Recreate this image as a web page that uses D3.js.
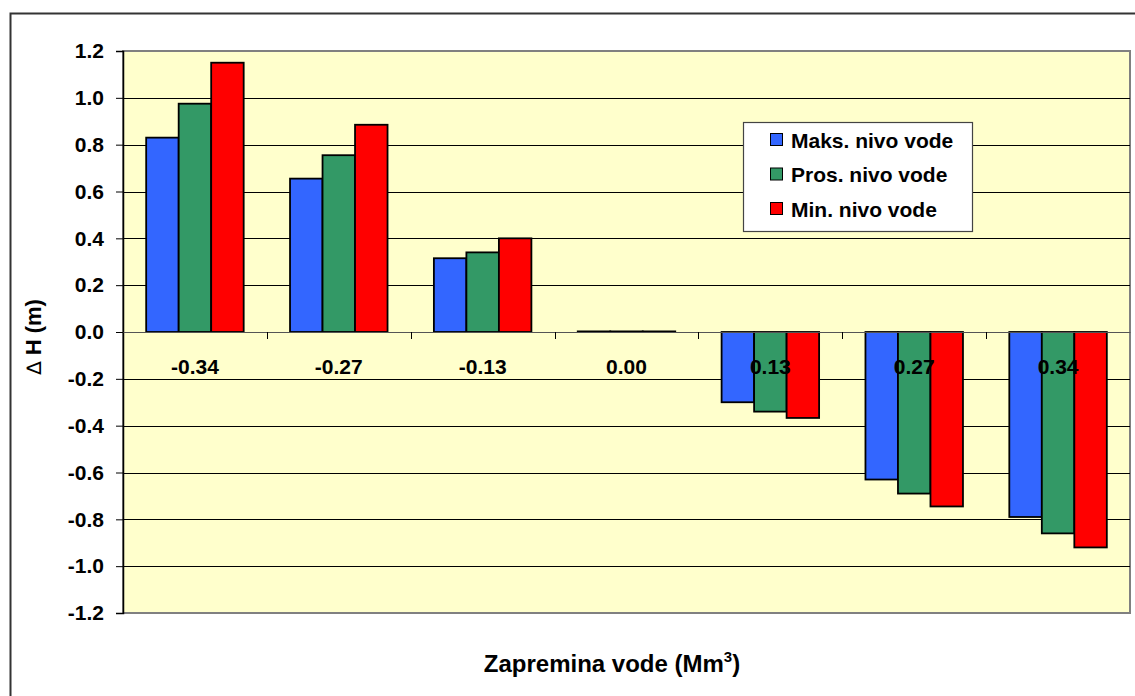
<!DOCTYPE html>
<html>
<head>
<meta charset="utf-8">
<script src="https://cdn.jsdelivr.net/npm/d3@7"></script>
<style>
  html, body { margin: 0; padding: 0; background: #ffffff; }
  svg { display: block; font-family: "Liberation Sans", Arial, Helvetica, sans-serif; }
</style>
</head>
<body>
<svg id="chart" width="1135" height="696"></svg>
<script>
const categories = ["-0.34", "-0.27", "-0.13", "0.00", "0.13", "0.27", "0.34"];
const seriesNames = ["Maks. nivo vode", "Pros. nivo vode", "Min. nivo vode"];
const maksValues = [0.83, 0.655, 0.315, 0, -0.30, -0.63, -0.79];
const prosValues = [0.975, 0.755, 0.34, 0, -0.34, -0.69, -0.86];
const minValues = [1.15, 0.885, 0.40, 0, -0.367, -0.745, -0.92];
const yTicks = [1.2, 1.0, 0.8, 0.6, 0.4, 0.2, 0.0, -0.2, -0.4, -0.6, -0.8, -1.0, -1.2];
const colors = ["#3366FF", "#339966", "#FF0000"];

const seriesValues = [maksValues, prosValues, minValues];

const svg = d3.select("#chart");
const plot = { left: 123, right: 1130, top: 51, bottom: 613 };

// outer frame
svg.append("rect")
  .attr("x", 10.5).attr("y", 13.5)
  .attr("width", 1130).attr("height", 700)
  .attr("fill", "#ffffff").attr("stroke", "#333333").attr("stroke-width", 2);

const x0 = d3.scaleBand().domain(categories).range([plot.left, plot.right]).padding(0);
const x1 = d3.scaleBand().domain(seriesNames).range([0, x0.bandwidth()]).paddingInner(0).paddingOuter(0.713);
const y = d3.scaleLinear().domain([-1.2, 1.2]).range([plot.bottom, plot.top]);

// plot background
svg.append("rect")
  .attr("x", plot.left).attr("y", plot.top)
  .attr("width", plot.right - plot.left).attr("height", plot.bottom - plot.top)
  .attr("fill", "#FFFFCC").attr("stroke", "#808080").attr("stroke-width", 2);

// gridlines
svg.append("g").selectAll("line")
  .data(yTicks.filter(t => t !== 1.2 && t !== -1.2))
  .join("line")
  .attr("x1", plot.left).attr("x2", plot.right)
  .attr("y1", d => Math.round(y(d)) + 0.5).attr("y2", d => Math.round(y(d)) + 0.5)
  .attr("stroke", "#000000").attr("stroke-width", 1);

// y axis
const yAxis = d3.axisLeft(y).tickValues(yTicks).tickFormat(d3.format(".1f")).tickSize(7).tickPadding(12);
const gy = svg.append("g").attr("transform", `translate(${plot.left},0)`).call(yAxis);
gy.select(".domain").attr("stroke", "#000").attr("stroke-width", 1.5);
gy.selectAll(".tick line").attr("stroke", "#000");
gy.selectAll(".tick text")
  .attr("font-size", 21).attr("font-weight", "bold").attr("fill", "#000")
  .attr("font-family", "Liberation Sans, Arial, sans-serif")
  .text(d => d3.format(".1f")(d).replace("−", "-"));

// bars
const groups = svg.append("g").selectAll("g")
  .data(categories)
  .join("g")
  .attr("transform", d => `translate(${x0(d)},0)`);

groups.selectAll("rect")
  .data((d, i) => seriesNames.map((s, j) => ({ s, j, v: seriesValues[j][i] })))
  .join("rect")
  .attr("x", d => x1(d.s))
  .attr("width", x1.bandwidth())
  .attr("y", d => y(Math.max(0, d.v)) - (d.v === 0 ? 0.6 : 0))
  .attr("height", d => Math.max(0.6, Math.abs(y(d.v) - y(0))))
  .attr("fill", d => colors[d.j])
  .attr("stroke", "#000").attr("stroke-width", 1.8);

// x axis at zero
const xAxis = d3.axisBottom(x0).tickSize(0).tickPadding(0);
const gx = svg.append("g").attr("transform", `translate(0,${y(0)})`).call(xAxis);
gx.select(".domain").attr("stroke", "#555").attr("stroke-width", 1.2);
gx.selectAll(".tick text").remove();
// tick marks between categories
svg.append("g").selectAll("line")
  .data(categories.slice(1))
  .join("line")
  .attr("x1", d => Math.round(x0(d)) + 0.5).attr("x2", d => Math.round(x0(d)) + 0.5)
  .attr("y1", y(0)).attr("y2", y(0) + 7)
  .attr("stroke", "#000").attr("stroke-width", 1);

// category labels
svg.append("g").selectAll("text")
  .data(categories)
  .join("text")
  .attr("x", d => x0(d) + x0.bandwidth() / 2)
  .attr("y", 374)
  .attr("text-anchor", "middle")
  .attr("font-size", 21).attr("font-weight", "bold").attr("fill", "#000")
  .text(d => d);

// axis titles
const yt = svg.append("text")
  .attr("transform", "translate(41,337) rotate(-90)")
  .attr("text-anchor", "middle")
  .attr("font-size", 22).attr("font-weight", "bold").attr("fill", "#000");
yt.append("tspan").attr("font-weight", "normal").attr("font-family", "DejaVu Sans, sans-serif").attr("font-size", 20).text("∆");
yt.append("tspan").text(" H (m)");

const xt = svg.append("text")
  .attr("x", 612).attr("y", 672)
  .attr("text-anchor", "middle")
  .attr("font-size", 24).attr("font-weight", "bold").attr("fill", "#000");
xt.append("tspan").text("Zapremina vode (Mm");
xt.append("tspan").attr("font-size", 15).attr("dy", -10).text("3");
xt.append("tspan").attr("dy", 10).text(")");

// legend
const legend = svg.append("g").attr("transform", "translate(743,122)");
legend.append("rect")
  .attr("x", 0.5).attr("y", 0.5).attr("width", 229).attr("height", 109)
  .attr("fill", "#fff").attr("stroke", "#444").attr("stroke-width", 1.2);
const items = legend.selectAll("g.item")
  .data(seriesNames)
  .join("g")
  .attr("class", "item")
  .attr("transform", (d, i) => `translate(0,${18 + i * 34.5})`);
items.append("rect")
  .attr("x", 27.5).attr("y", -6.5).attr("width", 12).attr("height", 12)
  .attr("fill", (d, i) => colors[i]).attr("stroke", "#000").attr("stroke-width", 1);
items.append("text")
  .attr("x", 48).attr("y", 7.5)
  .attr("font-size", 21).attr("font-weight", "bold").attr("fill", "#000")
  .text(d => d);
</script>
</body>
</html>
